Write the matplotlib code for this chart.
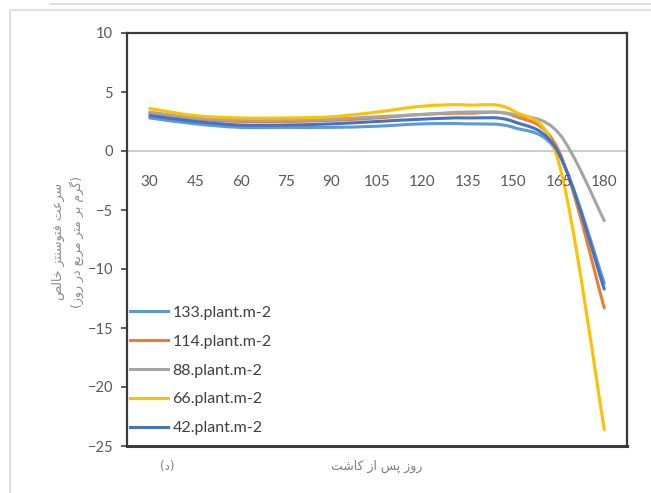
import numpy as np
import matplotlib.pyplot as plt
from matplotlib.path import Path
from matplotlib.patches import PathPatch
from matplotlib.lines import Line2D

days = [30, 45, 60, 75, 90, 105, 120, 135, 150, 165, 180]
labels = ['133.plant.m-2', '114.plant.m-2', '88.plant.m-2', '66.plant.m-2', '42.plant.m-2']
d133 = [2.8, 2.3, 2.0, 2.0, 2.0, 2.1, 2.3, 2.3, 2.0, -0.3, -11.2]
d114 = [3.2, 2.7, 2.5, 2.5, 2.6, 2.8, 3.1, 3.2, 3.0, 0.0, -13.3]
d88 = [3.3, 2.8, 2.6, 2.6, 2.7, 2.9, 3.1, 3.3, 3.1, 1.5, -5.9]
d66 = [3.6, 3.0, 2.8, 2.8, 2.9, 3.3, 3.8, 3.9, 3.4, -1.0, -23.6]
d42 = [3.0, 2.5, 2.2, 2.2, 2.3, 2.5, 2.7, 2.8, 2.5, -0.2, -11.7]
colors = ['#5B9BD5', '#ED7D31', '#A5A5A5', '#FFC000', '#4472C4']

# persian letters -> (isolated, final, initial, medial)
FORMS = {
    'ا': ('\ufe8d', '\ufe8e'), 'د': ('\ufea9', '\ufeaa'), 'ر': ('\ufead', '\ufeae'),
    'ز': ('\ufeaf', '\ufeb0'), 'و': ('\ufeed', '\ufeee'),
    'ب': ('\ufe8f', '\ufe90', '\ufe91', '\ufe92'), 'ت': ('\ufe95', '\ufe96', '\ufe97', '\ufe98'),
    'خ': ('\ufea5', '\ufea6', '\ufea7', '\ufea8'), 'س': ('\ufeb1', '\ufeb2', '\ufeb3', '\ufeb4'),
    'ش': ('\ufeb5', '\ufeb6', '\ufeb7', '\ufeb8'), 'ص': ('\ufeb9', '\ufeba', '\ufebb', '\ufebc'),
    'ع': ('\ufec9', '\ufeca', '\ufecb', '\ufecc'), 'ف': ('\ufed1', '\ufed2', '\ufed3', '\ufed4'),
    'ل': ('\ufedd', '\ufede', '\ufedf', '\ufee0'), 'م': ('\ufee1', '\ufee2', '\ufee3', '\ufee4'),
    'ن': ('\ufee5', '\ufee6', '\ufee7', '\ufee8'), 'پ': ('\ufb56', '\ufb57', '\ufb58', '\ufb59'),
    'ک': ('\ufb8e', '\ufb8f', '\ufb90', '\ufb91'), 'گ': ('\ufb92', '\ufb93', '\ufb94', '\ufb95'),
}


def fa(text):
    out = []
    for i, ch in enumerate(text):
        if ch not in FORMS:
            out.append(ch)
            continue
        f = FORMS[ch]
        prev = text[i - 1] if i > 0 else ''
        nxt = text[i + 1] if i + 1 < len(text) else ''
        a = prev in FORMS and len(FORMS[prev]) == 4
        b = nxt in FORMS and len(f) == 4
        out.append(f[3] if a and b else f[1] if a else f[2] if b else f[0])
    return ''.join(out)[::-1].translate(str.maketrans('()', ')('))


def smooth_path(y):
    # excel style smoothed line: cubic bezier through the points
    n = len(y)
    p = np.column_stack([np.arange(n), y])
    verts = [p[0]]
    codes = [Path.MOVETO]
    for i in range(n - 1):
        p0 = p[max(i - 1, 0)]
        p3 = p[min(i + 2, n - 1)]
        verts += [p[i] + (p[i + 1] - p0) / 6, p[i + 1] - (p3 - p[i]) / 6, p[i + 1]]
        codes += [Path.CURVE4] * 3
    return Path(verts, codes)


fa_font = ['DejaVu Sans']
num_font = ['Lato', 'DejaVu Sans']

fig = plt.figure(figsize=(6.51, 4.93), dpi=100)
ax = fig.add_axes([127 / 651, 1 - 446 / 493, 500 / 651, 413 / 493])

ax.axhline(0, color='#c8c8c8', lw=1.3, zorder=1)
handles = []
for y, c in zip([d133, d114, d88, d66, d42], colors):
    ax.add_patch(PathPatch(smooth_path(y), fill=False, edgecolor=c, lw=2.2, capstyle='round', zorder=3))
    handles.append(Line2D([], [], color=c, lw=2.2))

ax.set_xlim(-0.5, len(days) - 0.5)
ax.set_ylim(-25, 10)
ax.set_xticks([])
ax.set_yticks(range(-25, 11, 5))
ax.tick_params(axis='y', direction='out', length=4, width=1.2, color='#404040',
               labelcolor='#595959', labelsize=10.5, pad=6)
for t in ax.get_yticklabels():
    t.set_family(num_font)
for s in ax.spines.values():
    s.set_color('#3a3a3a')
    s.set_linewidth(1.6)
ax.spines['bottom'].set_linewidth(2.2)

for i, d in enumerate(days):
    ax.annotate(str(d), (i, 0), xytext=(0, -22), textcoords='offset points', ha='center', va='center',
                fontsize=11, color='#595959', family=num_font)

ax.legend(handles, labels, loc='upper left', bbox_to_anchor=(0.006, 0.34), frameon=False,
          borderpad=0, borderaxespad=0, handlelength=2.4, handletextpad=0.25, labelspacing=0.92,
          prop={'family': num_font, 'size': 11.5}, labelcolor='#404040')

ax.text(0.5, -0.05, fa('روز پس از کاشت'), transform=ax.transAxes, ha='center', va='center',
        fontsize=9, color='#7f7f7f', family=fa_font)
ax.text(0.08, -0.05, fa('(د)'), transform=ax.transAxes, ha='center', va='center',
        fontsize=8.5, color='#7f7f7f', family=fa_font)
fig.text(68 / 651, 1 - 242 / 493, fa('سرعت فتوسنتز خالص') + '\n' + fa('(گرم بر متر مربع در روز)'),
         rotation=90, ha='center', va='center', multialignment='center', fontsize=9,
         color='#8c8c8c', family=fa_font, linespacing=1.3)

# frame of the chart area
fig.add_artist(Line2D([10 / 651, 10 / 651, 1], [0, 1 - 10 / 493, 1 - 10 / 493],
                      transform=fig.transFigure, color='#d9d9d9', lw=1.2))
fig.add_artist(Line2D([50 / 651, 1], [1 - 4 / 493, 1 - 4 / 493],
                      transform=fig.transFigure, color='#d9d9d9', lw=1.2))

plt.savefig('out.png', dpi=100)
